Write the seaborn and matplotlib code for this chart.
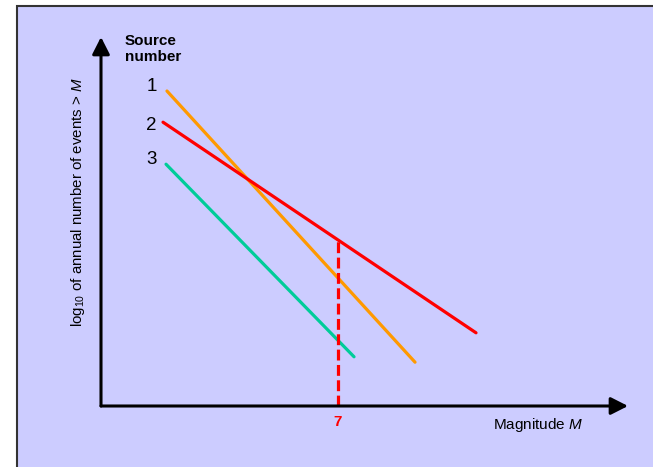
import numpy as np
import pandas as pd
import matplotlib
matplotlib.use("Agg")
import matplotlib.pyplot as plt
from matplotlib.patches import Rectangle
import seaborn as sns

# Recurrence lines for three seismic sources: log10(annual rate > M) vs magnitude
sources = ["1", "2", "3"]
m_start = [4.835, 4.785, 4.823]
m_end = [7.975, 8.747, 7.203]
logn_start = [1.25, 0.73, 0.03]
logn_end = [-3.27, -2.78, -3.18]
line_colors = ["#ff9900", "#ff0000", "#00cc99"]
design_magnitude = 7

sns.set_style("white")
plt.rcParams["font.family"] = ["Liberation Sans", "DejaVu Sans"]
plt.rcParams["text.color"] = "black"
plt.rcParams["mathtext.fontset"] = "custom"
plt.rcParams["mathtext.rm"] = "Liberation Sans"
plt.rcParams["mathtext.it"] = "Liberation Sans:italic"

rows = []
for s, m0, m1, n0, n1 in zip(sources, m_start, m_end, logn_start, logn_end):
    rows.append({"source": s, "M": m0, "logN": n0})
    rows.append({"source": s, "M": m1, "logN": n1})
df = pd.DataFrame(rows)

W, H = 653, 467
fig = plt.figure(figsize=(W / 100, H / 100), dpi=100)
fig.patch.set_facecolor("white")

ax = fig.add_axes([0, 0, 1, 1])
ax.set_facecolor("none")
ax.set_zorder(1)

# lavender panel with dark frame
fig.patches.append(Rectangle((17 / W, -0.05), 1.2, 1 - 5.5 / H + 0.05,
                             transform=fig.transFigure, facecolor="#ccccff",
                             edgecolor="#333333", linewidth=1.5, zorder=-1))

x_origin, y_origin = 4.0, -4.0
ax.set_xlim(x_origin - 101 / 79, x_origin + 552 / 79)
ax.set_ylim(y_origin - 61 / 60, y_origin + 406 / 60)
ax.axis("off")

sns.lineplot(data=df, x="M", y="logN", hue="source", palette=line_colors,
             linewidth=2.3, legend=False, ax=ax, estimator=None, sort=False)

# dashed marker at the design magnitude up to source 2
red_at_m = np.interp(design_magnitude, [m_start[1], m_end[1]], [logn_start[1], logn_end[1]])
ax.plot([design_magnitude, design_magnitude], [y_origin, red_at_m], color="#ff0000",
        linewidth=2.3, linestyle=(0, (3.4, 1.4)), zorder=3)
ax.text(design_magnitude, y_origin - 0.27, str(design_magnitude), color="#ff0000",
        fontsize=11, fontweight="bold", ha="center", va="center")

# axes drawn as arrows
arrow_kw = dict(arrowstyle="-|>,head_length=0.65,head_width=0.33", color="black",
                linewidth=2.2, shrinkA=0, shrinkB=0, mutation_scale=16)
ax.annotate("", xy=(x_origin, y_origin + 369 / 60), xytext=(x_origin, y_origin),
            arrowprops=arrow_kw)
ax.annotate("", xy=(x_origin + 527 / 79, y_origin), xytext=(x_origin, y_origin),
            arrowprops=arrow_kw)

# source labels, in a column left of the line starts
label_x = x_origin + 50.5 / 79
label_dy = [0.083, -0.058, 0.083]
for s, n0, dy in zip(sources, logn_start, label_dy):
    ax.text(label_x, n0 + dy, s, fontsize=13.5, ha="center", va="center")
ax.text(x_origin + 24 / 79, y_origin + 357 / 60, "Source\nnumber", fontsize=11,
        fontweight="bold", ha="left", va="center", linespacing=1.2)

ax.text(x_origin + 437 / 79, y_origin - 0.32, "Magnitude $M$", fontsize=11,
        ha="center", va="center")
ax.text(x_origin - 23 / 79, y_origin + 204 / 60,
        "log$_{10}$ of annual number of events > $M$", fontsize=10.8,
        rotation=90, ha="center", va="center")

fig.savefig("out.png", dpi=100, facecolor="white")
